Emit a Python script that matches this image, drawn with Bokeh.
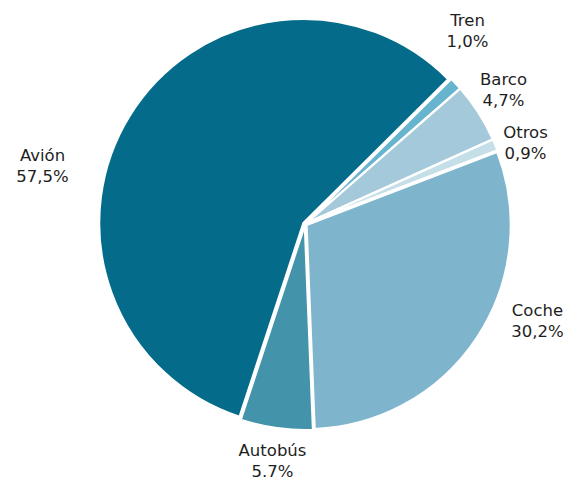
import math
from bokeh.plotting import figure
from bokeh.models import Range1d, ColumnDataSource
from bokeh.core.properties import value
from bokeh.embed import file_html
from bokeh.resources import INLINE

# data (clockwise order, starting at the Coche/Otros border)
categories = ["Coche", "Autobús", "Avión", "Tren", "Barco", "Otros"]
shares = [30.2, 5.7, 57.5, 1.0, 4.7, 0.9]
pct_labels = ["30,2%", "5.7%", "57,5%", "1,0%", "4,7%", "0,9%"]
colors = ["#7EB5CD", "#4393AA", "#046B8B", "#67B4CE", "#A3C9DA", "#C4DFE8"]

W, H = 569, 479
p = figure(width=W, height=H, output_backend="svg", toolbar_location=None,
           x_range=Range1d(0, W), y_range=Range1d(0, H), min_border=0)
p.axis.visible = False
p.grid.visible = False
p.outline_line_color = None
p.background_fill_color = "white"

cx, cy, R = 304.5, H - 223.5, 204
explode = 2.0
start_deg = 21.0

xs, ys, sa, ea = [], [], [], []
cur = start_deg
total = sum(shares)
for s in shares:
    span = s / total * 360.0
    a0 = cur
    a1 = cur - span
    mid = math.radians((a0 + a1) / 2)
    xs.append(cx + explode * math.cos(mid))
    ys.append(cy + explode * math.sin(mid))
    sa.append(math.radians(a1))
    ea.append(math.radians(a0))
    cur = a1

src = ColumnDataSource(dict(x=xs, y=ys, start=sa, end=ea, color=colors))
p.wedge(x="x", y="y", radius=R, start_angle="start", end_angle="end",
        fill_color="color", line_color="white", line_width=2, source=src)

# label anchor positions in pixel space (layout, not data)
label_pos = {
    "Coche": (537, 320),
    "Autobús": (272, 460),
    "Avión": (42, 165),
    "Tren": (467, 30),
    "Barco": (503, 89),
    "Otros": (525, 142),
}
lx = [label_pos[c][0] for c in categories]
ly = [H - label_pos[c][1] for c in categories]
gap = 10.5
p.text(x=lx, y=[v + gap for v in ly], text=categories, text_align="center",
       text_baseline="middle", text_font=value("DejaVu Sans"), text_font_size="16.5px",
       text_color="#1e1e1e")
p.text(x=lx, y=[v - gap for v in ly], text=pct_labels, text_align="center",
       text_baseline="middle", text_font=value("DejaVu Sans"), text_font_size="16.5px",
       text_color="#1e1e1e")

open("out.html", "w").write(file_html(p, INLINE))
